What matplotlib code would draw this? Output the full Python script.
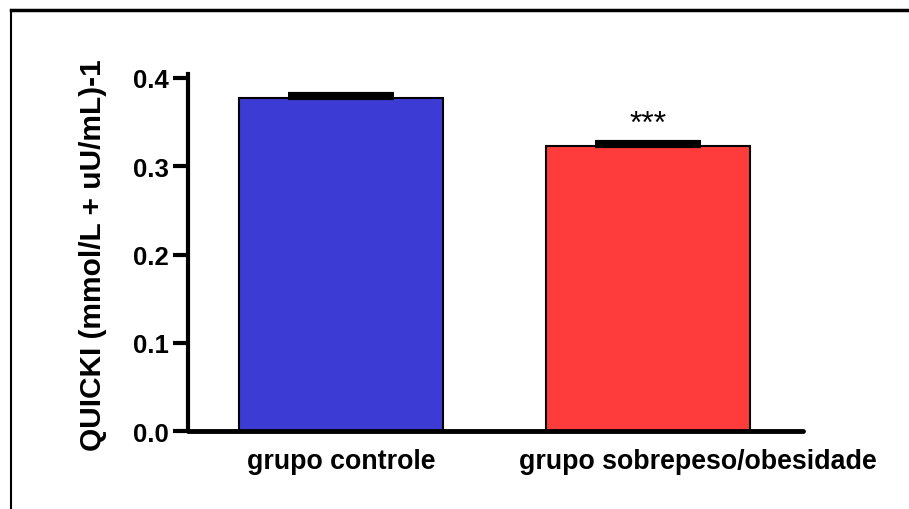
import numpy as np
import matplotlib.pyplot as plt
from matplotlib.lines import Line2D
from matplotlib.transforms import ScaledTranslation

plt.rcParams['font.family'] = ['Liberation Sans', 'DejaVu Sans']

# Data
groups = ["grupo controle", "grupo sobrepeso/obesidade"]
quicki = [0.377, 0.323]
sem = [0.0045, 0.004]
signif = ["", "***"]
bar_colors = ["#3c3cd4", "#ff3c3c"]

fig = plt.figure(figsize=(9.09, 5.10), dpi=100)
ax = fig.add_axes([0.2068, 0.1529, 0.6766, 0.6922])

x = np.arange(len(groups))
ax.bar(x, quicki, width=0.665, color=bar_colors, edgecolor="black", linewidth=1.5, zorder=2)
ax.errorbar(x, quicki, yerr=[np.zeros(len(sem)), sem], fmt="none", ecolor="black",
            elinewidth=2, capsize=38, capthick=3, zorder=3)

# Significance marks
for xi, val, err, s in zip(x, quicki, sem, signif):
    if s:
        ax.text(xi, val + err + 0.012, s, ha="center", va="baseline", fontsize=23)

ax.set_xlim(-0.498, 1.505)
ax.set_ylim(0, 0.4)
ax.set_yticks([0.0, 0.1, 0.2, 0.3, 0.4])
ax.set_yticklabels(["0.0", "0.1", "0.2", "0.3", "0.4"], fontsize=18.5, fontweight="bold")
ax.set_xticks(x)
ax.set_xticklabels(groups, fontsize=19.3, fontweight="bold")
ax.tick_params(axis="x", length=0, pad=12)
ax.tick_params(axis="y", length=11, width=3, pad=3)

# second category label sits a bit to the right of its bar in the original
lbl = ax.get_xticklabels()[1]
lbl.set_transform(lbl.get_transform() + ScaledTranslation(50 / 100, 0, fig.dpi_scale_trans))

ax.set_ylabel("QUICKI (mmol/L + uU/mL)-1", fontsize=21.5, fontweight="bold")
ax.yaxis.set_label_coords(-0.132, 0.5)

for side in ["top", "right"]:
    ax.spines[side].set_visible(False)
ax.spines["left"].set_linewidth(3)
ax.spines["bottom"].set_linewidth(3.5)
ax.spines["left"].set_bounds(0, 0.404)
ax.spines["bottom"].set_capstyle("round")

# Outer frame (left and top edges visible)
fx = 11 / 909
fy = 1 - 11 / 510
fig.add_artist(Line2D([fx, fx], [0, fy], color="black", linewidth=1.5, transform=fig.transFigure))
fig.add_artist(Line2D([fx, 1], [fy, fy], color="black", linewidth=2.5, transform=fig.transFigure))

fig.savefig("out.png", dpi=100)
